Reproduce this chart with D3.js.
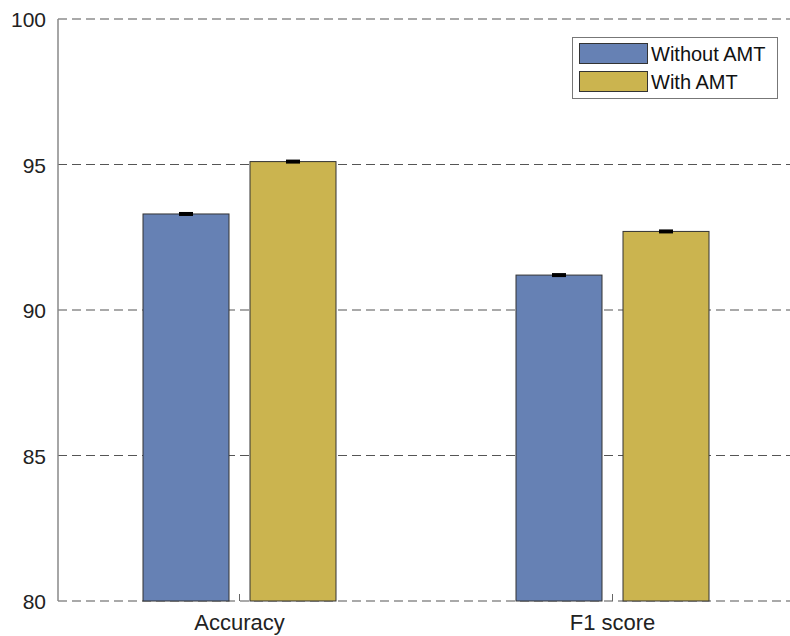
<!DOCTYPE html>
<html><head><meta charset="utf-8">
<script src="https://cdn.jsdelivr.net/npm/d3@7"></script>
<style>body{margin:0;background:#fff}svg{display:block;font-family:Arial,"Liberation Sans",sans-serif}</style>
</head><body><svg id="c" width="790" height="636"></svg>
<script>
const categories = ["Accuracy", "F1 score"];
const seriesNames = ["Without AMT", "With AMT"];
const withoutAMT = [93.3, 91.2];
const withAMT = [95.1, 92.7];
const errWithout = [0.05, 0.05];
const errWith = [0.05, 0.05];
const yTicks = [80, 85, 90, 95, 100];
const colors = ["#6681b4", "#cbb44f"];

const svg = d3.select("#c");
const plotLeft = 58, plotTop = 19, plotBottom = 601;
const x = d3.scaleLinear().domain([0.5, 2.5]).range([53, 53 + 746]);
const y = d3.scaleLinear().domain([80, 100]).range([plotBottom, plotTop]);
const barW = 86, offset = 53.5;

// grid lines
svg.append("g").selectAll("line").data(yTicks).join("line")
  .attr("x1", plotLeft).attr("x2", 790)
  .attr("y1", d => y(d)).attr("y2", d => y(d))
  .attr("stroke", "#555").attr("stroke-width", 1.2).attr("stroke-dasharray", "9,5");

// y axis line
svg.append("line").attr("x1", plotLeft).attr("x2", plotLeft).attr("y1", plotTop).attr("y2", plotBottom)
  .attr("stroke", "#888").attr("stroke-width", 1.5);

// y tick labels
svg.append("g").selectAll("text").data(yTicks).join("text")
  .attr("x", plotLeft - 12).attr("y", d => y(d) + 8)
  .attr("text-anchor", "end").attr("font-size", 21).attr("fill", "#222").text(d => d);

const data = [withoutAMT, withAMT];
const errs = [errWithout, errWith];
data.forEach((vals, s) => {
  const g = svg.append("g");
  vals.forEach((v, i) => {
    const cx = x(i + 1) + (s === 0 ? -offset : offset);
    g.append("rect").attr("x", cx - barW / 2).attr("width", barW)
      .attr("y", y(v)).attr("height", y(80) - y(v))
      .attr("fill", colors[s]).attr("stroke", "#333").attr("stroke-width", 1);
    const e = errs[s][i];
    const h = Math.max(4, y(v - e) - y(v + e));
    g.append("rect").attr("x", cx - 7).attr("width", 14)
      .attr("y", y(v) - h / 2).attr("height", h).attr("fill", "#000");
  });
});

// category ticks and labels
categories.forEach((c, i) => {
  svg.append("line").attr("x1", x(i + 1)).attr("x2", x(i + 1))
    .attr("y1", plotBottom).attr("y2", plotBottom - 7).attr("stroke", "#666").attr("stroke-width", 1);
  svg.append("text").attr("x", x(i + 1)).attr("y", 630).attr("text-anchor", "middle")
    .attr("font-size", 22).attr("fill", "#222").text(c);
});

// legend
const lg = svg.append("g");
lg.append("rect").attr("x", 572.5).attr("y", 37.5).attr("width", 205).attr("height", 61)
  .attr("fill", "#fff").attr("stroke", "#777").attr("stroke-width", 1);
seriesNames.forEach((n, i) => {
  lg.append("rect").attr("x", 579.5).attr("y", 43.5 + i * 28).attr("width", 68).attr("height", 20)
    .attr("fill", colors[i]).attr("stroke", "#333").attr("stroke-width", 1);
  lg.append("text").attr("x", 651).attr("y", 60.5 + i * 28)
    .attr("font-size", 20).attr("fill", "#111").text(n);
});
</script></body></html>
